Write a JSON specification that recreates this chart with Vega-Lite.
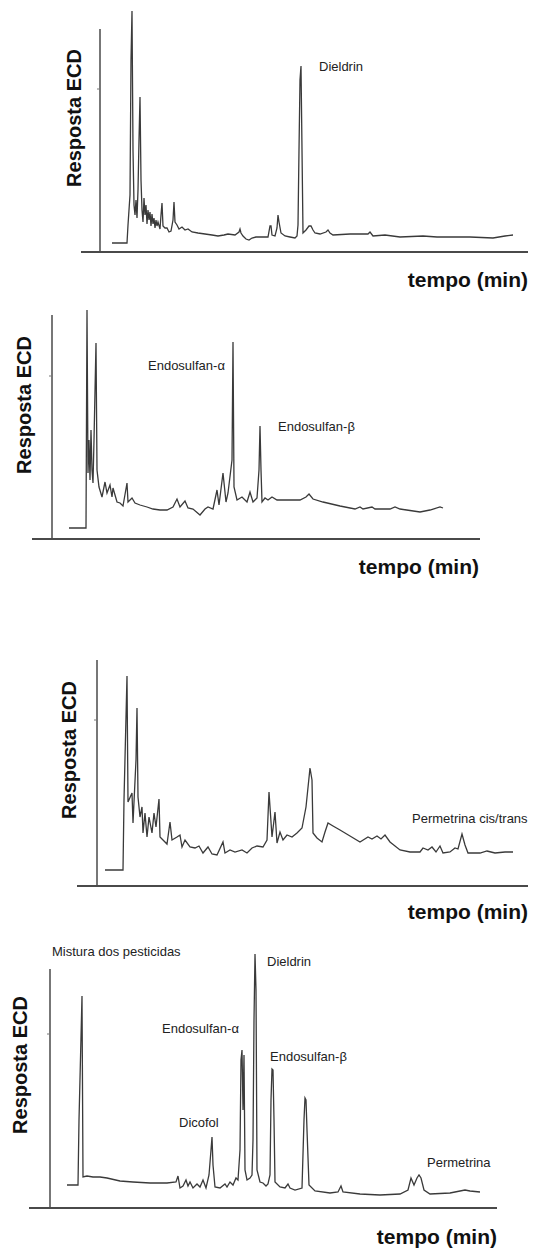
{
  "$schema": "https://vega.github.io/schema/vega-lite/v6.json",
  "padding": 0,
  "spacing": 0,
  "bounds": "flush",
  "background": "white",
  "config": {"view": {"stroke": null}, "axis": {"disable": true}, "font": "Liberation Sans"},
  "datasets": {
    "p1": [
      {"t":12,"r":9},{"t":27,"r":9},{"t":28,"r":27},{"t":30,"r":57},{"t":31,"r":192},{"t":32,"r":241},{"t":33,"r":102},{"t":34,"r":47},{"t":35,"r":37},{"t":36,"r":52},{"t":37,"r":34},{"t":38,"r":62},{"t":39,"r":112},{"t":40,"r":155},{"t":41,"r":72},{"t":42,"r":42},{"t":43,"r":30},{"t":44,"r":54},{"t":45,"r":37},{"t":46,"r":47},{"t":47,"r":28},{"t":48,"r":42},{"t":49,"r":32},{"t":50,"r":40},{"t":51,"r":26},{"t":52,"r":38},{"t":53,"r":28},{"t":54,"r":34},{"t":55,"r":24},{"t":56,"r":32},{"t":57,"r":26},{"t":58,"r":30},{"t":60,"r":23},{"t":61,"r":37},{"t":62,"r":49},{"t":63,"r":26},{"t":65,"r":24},{"t":67,"r":24},{"t":69,"r":20},{"t":71,"r":21},{"t":73,"r":32},{"t":74,"r":50},{"t":75,"r":30},{"t":77,"r":27},{"t":79,"r":23},{"t":82,"r":25},{"t":85,"r":22},{"t":88,"r":23},{"t":92,"r":20},{"t":98,"r":19},{"t":105,"r":18},{"t":112,"r":17},{"t":118,"r":16},{"t":124,"r":17},{"t":128,"r":18},{"t":135,"r":17},{"t":139,"r":20},{"t":140,"r":23},{"t":141,"r":19},{"t":143,"r":16},{"t":146,"r":13},{"t":149,"r":12},{"t":152,"r":14},{"t":156,"r":15},{"t":162,"r":15},{"t":168,"r":15},{"t":170,"r":26},{"t":171,"r":26},{"t":172,"r":17},{"t":175,"r":16},{"t":177,"r":24},{"t":178,"r":37},{"t":179,"r":30},{"t":181,"r":19},{"t":185,"r":16},{"t":190,"r":15},{"t":195,"r":14},{"t":197,"r":16},{"t":198,"r":27},{"t":199,"r":102},{"t":200,"r":172},{"t":201,"r":186},{"t":202,"r":102},{"t":203,"r":19},{"t":206,"r":22},{"t":209,"r":26},{"t":211,"r":26},{"t":213,"r":22},{"t":215,"r":19},{"t":220,"r":18},{"t":226,"r":20},{"t":228,"r":22},{"t":230,"r":19},{"t":233,"r":17},{"t":250,"r":18},{"t":268,"r":18},{"t":270,"r":20},{"t":273,"r":16},{"t":285,"r":17},{"t":300,"r":15},{"t":323,"r":16},{"t":337,"r":15},{"t":370,"r":15},{"t":393,"r":14},{"t":405,"r":16},{"t":413,"r":17}
    ],
    "p2": [
      {"t":17,"r":11},{"t":34,"r":11},{"t":35,"r":229},{"t":36,"r":66},{"t":37,"r":99},{"t":38,"r":59},{"t":39,"r":109},{"t":40,"r":69},{"t":41,"r":56},{"t":42,"r":99},{"t":44,"r":196},{"t":45,"r":69},{"t":47,"r":52},{"t":50,"r":42},{"t":53,"r":57},{"t":55,"r":46},{"t":58,"r":54},{"t":60,"r":42},{"t":61,"r":51},{"t":65,"r":37},{"t":68,"r":36},{"t":71,"r":33},{"t":75,"r":56},{"t":76,"r":37},{"t":80,"r":41},{"t":83,"r":36},{"t":88,"r":34},{"t":95,"r":32},{"t":101,"r":30},{"t":108,"r":29},{"t":115,"r":29},{"t":121,"r":32},{"t":125,"r":40},{"t":128,"r":32},{"t":133,"r":38},{"t":136,"r":31},{"t":141,"r":30},{"t":148,"r":24},{"t":153,"r":30},{"t":156,"r":32},{"t":161,"r":30},{"t":165,"r":49},{"t":167,"r":34},{"t":171,"r":66},{"t":174,"r":37},{"t":176,"r":46},{"t":180,"r":79},{"t":181,"r":197},{"t":182,"r":52},{"t":185,"r":39},{"t":190,"r":42},{"t":195,"r":37},{"t":198,"r":47},{"t":201,"r":37},{"t":205,"r":41},{"t":207,"r":69},{"t":208,"r":113},{"t":209,"r":69},{"t":210,"r":37},{"t":213,"r":41},{"t":216,"r":39},{"t":220,"r":42},{"t":225,"r":39},{"t":228,"r":39},{"t":248,"r":39},{"t":254,"r":42},{"t":257,"r":45},{"t":261,"r":40},{"t":271,"r":37},{"t":288,"r":33},{"t":303,"r":30},{"t":308,"r":32},{"t":311,"r":30},{"t":320,"r":32},{"t":323,"r":30},{"t":338,"r":30},{"t":343,"r":32},{"t":348,"r":30},{"t":368,"r":27},{"t":378,"r":29},{"t":388,"r":32},{"t":391,"r":31}
    ],
    "p3": [
      {"t":8,"r":16},{"t":26,"r":16},{"t":27,"r":86},{"t":30,"r":210},{"t":31,"r":84},{"t":35,"r":93},{"t":36,"r":63},{"t":39,"r":126},{"t":40,"r":178},{"t":41,"r":89},{"t":43,"r":69},{"t":45,"r":79},{"t":46,"r":53},{"t":48,"r":73},{"t":50,"r":49},{"t":52,"r":69},{"t":55,"r":53},{"t":57,"r":73},{"t":59,"r":59},{"t":62,"r":87},{"t":63,"r":49},{"t":66,"r":46},{"t":70,"r":42},{"t":73,"r":64},{"t":75,"r":46},{"t":80,"r":49},{"t":83,"r":51},{"t":85,"r":39},{"t":88,"r":46},{"t":93,"r":39},{"t":98,"r":38},{"t":102,"r":40},{"t":106,"r":33},{"t":111,"r":39},{"t":115,"r":32},{"t":120,"r":31},{"t":126,"r":44},{"t":128,"r":33},{"t":133,"r":36},{"t":138,"r":34},{"t":145,"r":36},{"t":150,"r":33},{"t":155,"r":38},{"t":160,"r":40},{"t":166,"r":39},{"t":170,"r":46},{"t":172,"r":94},{"t":175,"r":49},{"t":178,"r":74},{"t":180,"r":43},{"t":183,"r":54},{"t":186,"r":46},{"t":190,"r":51},{"t":195,"r":49},{"t":200,"r":53},{"t":205,"r":58},{"t":209,"r":79},{"t":213,"r":118},{"t":215,"r":106},{"t":216,"r":53},{"t":220,"r":48},{"t":225,"r":44},{"t":228,"r":54},{"t":231,"r":63},{"t":236,"r":60},{"t":243,"r":56},{"t":253,"r":50},{"t":263,"r":44},{"t":271,"r":49},{"t":275,"r":47},{"t":280,"r":50},{"t":284,"r":47},{"t":288,"r":51},{"t":293,"r":44},{"t":303,"r":36},{"t":313,"r":34},{"t":323,"r":34},{"t":326,"r":38},{"t":331,"r":36},{"t":335,"r":39},{"t":339,"r":34},{"t":343,"r":40},{"t":346,"r":33},{"t":353,"r":34},{"t":358,"r":38},{"t":361,"r":37},{"t":365,"r":52},{"t":368,"r":41},{"t":371,"r":33},{"t":383,"r":33},{"t":390,"r":35},{"t":398,"r":33},{"t":408,"r":34},{"t":416,"r":34}
    ],
    "p4": [
      {"t":17,"r":23},{"t":28,"r":23},{"t":29,"r":88},{"t":32,"r":212},{"t":33,"r":31},{"t":37,"r":32},{"t":43,"r":31},{"t":50,"r":31},{"t":57,"r":30},{"t":70,"r":27},{"t":83,"r":26},{"t":100,"r":25},{"t":117,"r":25},{"t":126,"r":26},{"t":128,"r":32},{"t":130,"r":20},{"t":133,"r":22},{"t":136,"r":28},{"t":138,"r":22},{"t":140,"r":26},{"t":143,"r":20},{"t":147,"r":24},{"t":150,"r":21},{"t":153,"r":28},{"t":156,"r":20},{"t":159,"r":33},{"t":161,"r":58},{"t":162,"r":71},{"t":163,"r":43},{"t":165,"r":21},{"t":170,"r":20},{"t":175,"r":24},{"t":177,"r":21},{"t":180,"r":26},{"t":183,"r":23},{"t":186,"r":30},{"t":188,"r":28},{"t":190,"r":58},{"t":191,"r":148},{"t":192,"r":158},{"t":193,"r":98},{"t":194,"r":153},{"t":195,"r":38},{"t":197,"r":28},{"t":200,"r":30},{"t":202,"r":33},{"t":203,"r":68},{"t":204,"r":188},{"t":205,"r":254},{"t":206,"r":218},{"t":207,"r":38},{"t":210,"r":26},{"t":213,"r":25},{"t":216,"r":22},{"t":218,"r":24},{"t":220,"r":33},{"t":221,"r":108},{"t":222,"r":139},{"t":223,"r":138},{"t":224,"r":88},{"t":225,"r":26},{"t":230,"r":21},{"t":235,"r":20},{"t":238,"r":24},{"t":240,"r":20},{"t":245,"r":18},{"t":252,"r":20},{"t":254,"r":88},{"t":255,"r":110},{"t":256,"r":108},{"t":257,"r":78},{"t":259,"r":23},{"t":265,"r":17},{"t":280,"r":15},{"t":288,"r":16},{"t":291,"r":22},{"t":293,"r":16},{"t":310,"r":14},{"t":330,"r":13},{"t":350,"r":14},{"t":358,"r":18},{"t":361,"r":30},{"t":364,"r":23},{"t":367,"r":30},{"t":369,"r":33},{"t":371,"r":30},{"t":374,"r":18},{"t":380,"r":14},{"t":400,"r":15},{"t":415,"r":18},{"t":420,"r":17},{"t":430,"r":16}
    ],
    "labels": [
      {"panel":1,"t":219,"r":185,"label":"Dieldrin"},
      {"panel":2,"t":96,"r":173,"label":"Endosulfan-α"},
      {"panel":2,"t":226,"r":112,"label":"Endosulfan-β"},
      {"panel":3,"t":315,"r":67,"label":"Permetrina cis/trans"},
      {"panel":4,"t":2,"r":256,"label":"Mistura dos pesticidas"},
      {"panel":4,"t":129,"r":85,"label":"Dicofol"},
      {"panel":4,"t":112,"r":179,"label":"Endosulfan-α"},
      {"panel":4,"t":217,"r":246,"label":"Dieldrin"},
      {"panel":4,"t":220,"r":151,"label":"Endosulfan-β"},
      {"panel":4,"t":377,"r":45,"label":"Permetrina"}
    ]
  },
  "vconcat": [
    {
      "width": 533, "height": 295,
      "layer": [
        {"data": {"name": "p1"}, "mark": {"type": "line", "color": "#3a3a3a", "strokeWidth": 1.3},
         "encoding": {"x": {"field": "t", "type": "quantitative", "scale": {"domain": [-100, 433], "nice": false, "zero": false}, "axis": null},
                      "y": {"field": "r", "type": "quantitative", "scale": {"domain": [-43, 252], "nice": false, "zero": false}, "axis": null}}},
        {"data": {"values": [{}]}, "mark": {"type": "rule", "color": "#4a4a4a", "strokeWidth": 1.5},
         "encoding": {"x": {"datum": 0}, "y": {"datum": 1}, "y2": {"datum": 223}}},
        {"data": {"values": [{}]}, "mark": {"type": "rule", "color": "#4a4a4a", "strokeWidth": 1.8},
         "encoding": {"x": {"datum": -19}, "x2": {"datum": 428}, "y": {"datum": 0}}},
        {"data": {"values": [{}]}, "mark": {"type": "rule", "color": "#777", "strokeWidth": 1},
         "encoding": {"x": {"datum": -3}, "x2": {"datum": 0}, "y": {"datum": 163}}},
        {"data": {"values": [{}]}, "mark": {"type": "text", "text": "Resposta ECD", "angle": 270, "fontSize": 20, "fontWeight": "bold", "align": "center", "baseline": "middle", "color": "#111"},
         "encoding": {"x": {"datum": -25}, "y": {"datum": 134}}},
        {"data": {"values": [{}]}, "mark": {"type": "text", "text": "tempo (min)", "fontSize": 21, "fontWeight": "bold", "align": "right", "baseline": "middle", "color": "#111"},
         "encoding": {"x": {"datum": 428}, "y": {"datum": -29}}},
        {"data": {"name": "labels"}, "transform": [{"filter": "datum.panel === 1"}],
         "mark": {"type": "text", "fontSize": 13, "align": "left", "baseline": "middle", "color": "#222"},
         "encoding": {"x": {"field": "t", "type": "quantitative"}, "y": {"field": "r", "type": "quantitative"}, "text": {"field": "label"}}}
      ]
    },
    {
      "width": 533, "height": 305,
      "layer": [
        {"data": {"name": "p2"}, "mark": {"type": "line", "color": "#3a3a3a", "strokeWidth": 1.3},
         "encoding": {"x": {"field": "t", "type": "quantitative", "scale": {"domain": [-52, 481], "nice": false, "zero": false}, "axis": null},
                      "y": {"field": "r", "type": "quantitative", "scale": {"domain": [-61, 244], "nice": false, "zero": false}, "axis": null}}},
        {"data": {"values": [{}]}, "mark": {"type": "rule", "color": "#4a4a4a", "strokeWidth": 1.5},
         "encoding": {"x": {"datum": 0}, "y": {"datum": 1}, "y2": {"datum": 224}}},
        {"data": {"values": [{}]}, "mark": {"type": "rule", "color": "#4a4a4a", "strokeWidth": 1.8},
         "encoding": {"x": {"datum": -20}, "x2": {"datum": 428}, "y": {"datum": 0}}},
        {"data": {"values": [{}]}, "mark": {"type": "rule", "color": "#777", "strokeWidth": 1},
         "encoding": {"x": {"datum": -3}, "x2": {"datum": 0}, "y": {"datum": 163}}},
        {"data": {"values": [{}]}, "mark": {"type": "text", "text": "Resposta ECD", "angle": 270, "fontSize": 20, "fontWeight": "bold", "align": "center", "baseline": "middle", "color": "#111"},
         "encoding": {"x": {"datum": -27}, "y": {"datum": 134}}},
        {"data": {"values": [{}]}, "mark": {"type": "text", "text": "tempo (min)", "fontSize": 21, "fontWeight": "bold", "align": "right", "baseline": "middle", "color": "#111"},
         "encoding": {"x": {"datum": 427}, "y": {"datum": -29}}},
        {"data": {"name": "labels"}, "transform": [{"filter": "datum.panel === 2"}],
         "mark": {"type": "text", "fontSize": 13, "align": "left", "baseline": "middle", "color": "#222"},
         "encoding": {"x": {"field": "t", "type": "quantitative"}, "y": {"field": "r", "type": "quantitative"}, "text": {"field": "label"}}}
      ]
    },
    {
      "width": 533, "height": 330,
      "layer": [
        {"data": {"name": "p3"}, "mark": {"type": "line", "color": "#3a3a3a", "strokeWidth": 1.3},
         "encoding": {"x": {"field": "t", "type": "quantitative", "scale": {"domain": [-97, 436], "nice": false, "zero": false}, "axis": null},
                      "y": {"field": "r", "type": "quantitative", "scale": {"domain": [-44, 286], "nice": false, "zero": false}, "axis": null}}},
        {"data": {"values": [{}]}, "mark": {"type": "rule", "color": "#4a4a4a", "strokeWidth": 1.5},
         "encoding": {"x": {"datum": 0}, "y": {"datum": 1}, "y2": {"datum": 226}}},
        {"data": {"values": [{}]}, "mark": {"type": "rule", "color": "#4a4a4a", "strokeWidth": 1.8},
         "encoding": {"x": {"datum": -20}, "x2": {"datum": 431}, "y": {"datum": 0}}},
        {"data": {"values": [{}]}, "mark": {"type": "rule", "color": "#777", "strokeWidth": 1},
         "encoding": {"x": {"datum": -3}, "x2": {"datum": 0}, "y": {"datum": 166}}},
        {"data": {"values": [{}]}, "mark": {"type": "text", "text": "Resposta ECD", "angle": 270, "fontSize": 20, "fontWeight": "bold", "align": "center", "baseline": "middle", "color": "#111"},
         "encoding": {"x": {"datum": -27}, "y": {"datum": 136}}},
        {"data": {"values": [{}]}, "mark": {"type": "text", "text": "tempo (min)", "fontSize": 21, "fontWeight": "bold", "align": "right", "baseline": "middle", "color": "#111"},
         "encoding": {"x": {"datum": 431}, "y": {"datum": -27}}},
        {"data": {"name": "labels"}, "transform": [{"filter": "datum.panel === 3"}],
         "mark": {"type": "text", "fontSize": 13, "align": "left", "baseline": "middle", "color": "#222"},
         "encoding": {"x": {"field": "t", "type": "quantitative"}, "y": {"field": "r", "type": "quantitative"}, "text": {"field": "label"}}}
      ]
    },
    {
      "width": 533, "height": 322,
      "layer": [
        {"data": {"name": "p4"}, "mark": {"type": "line", "color": "#3a3a3a", "strokeWidth": 1.3},
         "encoding": {"x": {"field": "t", "type": "quantitative", "scale": {"domain": [-50, 483], "nice": false, "zero": false}, "axis": null},
                      "y": {"field": "r", "type": "quantitative", "scale": {"domain": [-44, 278], "nice": false, "zero": false}, "axis": null}}},
        {"data": {"values": [{}]}, "mark": {"type": "rule", "color": "#4a4a4a", "strokeWidth": 1.5},
         "encoding": {"x": {"datum": 0}, "y": {"datum": 1}, "y2": {"datum": 239}}},
        {"data": {"values": [{}]}, "mark": {"type": "rule", "color": "#4a4a4a", "strokeWidth": 1.8},
         "encoding": {"x": {"datum": -21}, "x2": {"datum": 447}, "y": {"datum": 0}}},
        {"data": {"values": [{}]}, "mark": {"type": "rule", "color": "#777", "strokeWidth": 1},
         "encoding": {"x": {"datum": -3}, "x2": {"datum": 0}, "y": {"datum": 174}}},
        {"data": {"values": [{}]}, "mark": {"type": "text", "text": "Resposta ECD", "angle": 270, "fontSize": 20, "fontWeight": "bold", "align": "center", "baseline": "middle", "color": "#111"},
         "encoding": {"x": {"datum": -29}, "y": {"datum": 143}}},
        {"data": {"values": [{}]}, "mark": {"type": "text", "text": "tempo (min)", "fontSize": 21, "fontWeight": "bold", "align": "right", "baseline": "middle", "color": "#111"},
         "encoding": {"x": {"datum": 447}, "y": {"datum": -30}}},
        {"data": {"name": "labels"}, "transform": [{"filter": "datum.panel === 4"}],
         "mark": {"type": "text", "fontSize": 13, "align": "left", "baseline": "middle", "color": "#222"},
         "encoding": {"x": {"field": "t", "type": "quantitative"}, "y": {"field": "r", "type": "quantitative"}, "text": {"field": "label"}}}
      ]
    }
  ]
}
